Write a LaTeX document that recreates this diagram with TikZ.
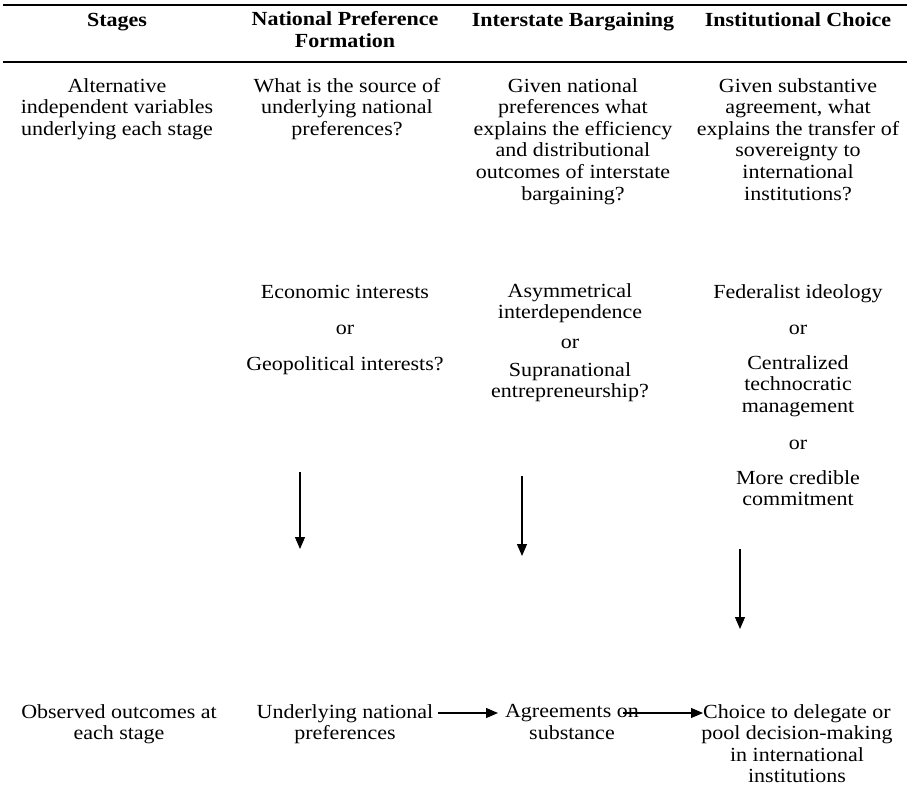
\documentclass[tikz,border=0pt]{standalone}
\usepackage{fontspec}
\setmainfont{Liberation Serif}[FakeStretch=1.1]
\usetikzlibrary{arrows.meta}
\tikzset{
  txt/.style={align=center,anchor=north,inner sep=0pt,font=\fontsize{20}{21.6}\selectfont,execute at begin node=\strut},
  hdr/.style={txt,font=\fontsize{20}{22}\selectfont\bfseries},
  rule/.style={line width=1.8pt},
  flow/.style={line width=1.2pt,-{Triangle[length=12pt,width=10pt]}}
}
\begin{document}
\begin{tikzpicture}[x=1pt,y=-1pt]
\useasboundingbox (0,0) rectangle (910,798);
% rules
\coordinate (r1l) at (3,5); \coordinate (r1r) at (907,5);
\coordinate (r2l) at (3,62); \coordinate (r2r) at (907,62);
\draw[rule] (r1l) -- (r1r);
\draw[rule] (r2l) -- (r2r);
% header
\node[hdr] (h1) at (117,11) {Stages};
\node[hdr] (h2) at (345,11) {National Preference\\Formation};
\node[hdr] (h3) at (573,11) {Interstate Bargaining};
\node[hdr] (h4) at (798,11) {Institutional Choice};
% questions row
\node[txt] (q1) at (117,78) {Alternative\\independent variables\\underlying each stage};
\node[txt] (q2) at (347,78) {What is the source of\\underlying national\\preferences?};
\node[txt] (q3) at (573,78) {Given national\\preferences what\\explains the efficiency\\and distributional\\outcomes of interstate\\bargaining?};
\node[txt] (q4) at (798,78) {Given substantive\\agreement, what\\explains the transfer of\\sovereignty to\\international\\institutions?};
% variables
\node[txt] (v2a) at (345,283) {Economic interests};
\node[txt] (v2b) at (345,319) {or};
\node[txt] (v2c) at (345,355) {Geopolitical interests?};
\node[txt] (v3a) at (570,283) {Asymmetrical\\interdependence};
\node[txt] (v3b) at (570,333) {or};
\node[txt] (v3c) at (570,362) {Supranational\\entrepreneurship?};
\node[txt] (v4a) at (798,283) {Federalist ideology};
\node[txt] (v4b) at (798,319) {or};
\node[txt] (v4c) at (798,355) {Centralized\\technocratic\\management};
\node[txt] (v4d) at (798,434) {or};
\node[txt] (v4e) at (798,470) {More credible\\commitment};
% vertical arrows
\coordinate (a2s) at (300,472); \coordinate (a2e) at (300,549);
\coordinate (a3s) at (522,476); \coordinate (a3e) at (522,556);
\coordinate (a4s) at (740,549); \coordinate (a4e) at (740,629);
\draw[flow] (a2s) -- (a2e);
\draw[flow] (a3s) -- (a3e);
\draw[flow] (a4s) -- (a4e);
% outcomes
\node[txt] (o1) at (119,704) {Observed outcomes at\\each stage};
\node[txt] (o2) at (345,704) {Underlying national\\preferences};
\node[txt] (o3) at (572,704) {Agreements on\\substance};
\node[txt] (o4) at (797,704) {Choice to delegate or\\pool decision-making\\in international\\institutions};
\coordinate (b1s) at (438,713); \coordinate (b1e) at (498,713);
\coordinate (b2s) at (623,713); \coordinate (b2e) at (703,713);
\draw[flow] (b1s) -- (b1e);
\draw[flow] (b2s) -- (b2e);
\end{tikzpicture}
\end{document}
